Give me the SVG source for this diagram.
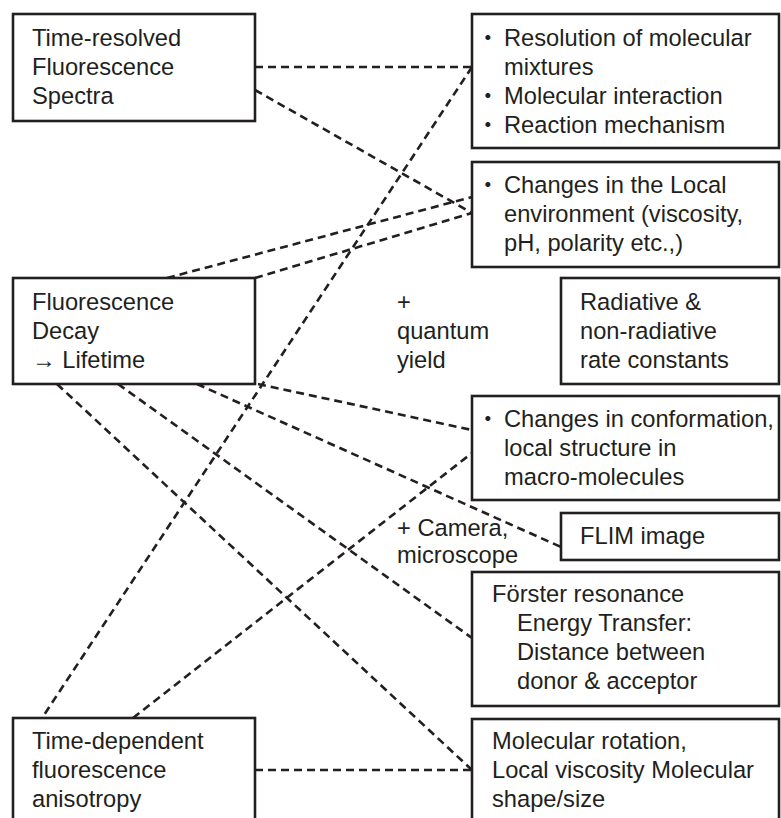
<svg xmlns="http://www.w3.org/2000/svg" width="781" height="818" viewBox="0 0 781 818">
<style>
.box{fill:#fff;stroke:#231f20;stroke-width:2.6}
.t{font-family:"Liberation Sans","Noto Sans CJK JP",Arial,sans-serif;font-size:23.7px;fill:#231f20}
.c{fill:none;stroke:#231f20;stroke-width:2.6;stroke-dasharray:8 5}
</style>
<rect width="781" height="818" fill="#fff"/>
<g id="connectors">
<line class="c" x1="255" y1="67" x2="472" y2="67"/>
<line class="c" x1="255" y1="90" x2="472" y2="213"/>
<line class="c" x1="472" y1="67" x2="42" y2="718"/>
<line class="c" x1="167" y1="278" x2="472" y2="197"/>
<line class="c" x1="255" y1="278" x2="472" y2="213"/>
<line class="c" x1="258" y1="384" x2="472" y2="430"/>
<line class="c" x1="197" y1="384" x2="561" y2="547"/>
<line class="c" x1="118" y1="384" x2="472" y2="638"/>
<line class="c" x1="57" y1="384" x2="472" y2="770"/>
<line class="c" x1="133" y1="718" x2="472" y2="453"/>
<line class="c" x1="255" y1="770" x2="472" y2="770"/>
</g>
<g id="n-time-resolved">
<rect class="box" x="13" y="14" width="242" height="107"/>
<text class="t" x="32" y="46">Time-resolved</text>
<text class="t" x="32" y="75">Fluorescence</text>
<text class="t" x="32" y="104">Spectra</text>
</g>
<g id="n-resolution">
<rect class="box" x="472" y="14" width="307" height="134"/>
<text class="t" x="476" y="46">・<tspan x="504">Resolution of molecular</tspan></text>
<text class="t" x="504" y="75">mixtures</text>
<text class="t" x="476" y="104">・<tspan x="504">Molecular interaction</tspan></text>
<text class="t" x="476" y="133">・<tspan x="504">Reaction mechanism</tspan></text>
</g>
<g id="n-local-env">
<rect class="box" x="472" y="162" width="307" height="105"/>
<text class="t" x="476" y="193">・<tspan x="504">Changes in the Local</tspan></text>
<text class="t" x="504" y="222">environment (viscosity,</text>
<text class="t" x="504" y="251">pH, polarity etc.,)</text>
</g>
<g id="n-decay">
<rect class="box" x="13" y="278" width="242" height="106"/>
<text class="t" x="32" y="310">Fluorescence</text>
<text class="t" x="32" y="339">Decay</text>
<text class="t" x="32" y="368">→ Lifetime</text>
</g>
<g id="n-quantum">
<text class="t" x="397" y="310">+</text>
<text class="t" x="397" y="339">quantum</text>
<text class="t" x="397" y="368">yield</text>
</g>
<g id="n-radiative">
<rect class="box" x="561" y="278" width="218" height="106"/>
<text class="t" x="580" y="310">Radiative &amp;</text>
<text class="t" x="580" y="339">non-radiative</text>
<text class="t" x="580" y="368">rate constants</text>
</g>
<g id="n-conformation">
<rect class="box" x="472" y="396" width="307" height="104"/>
<text class="t" x="476" y="427">・<tspan x="504">Changes in conformation,</tspan></text>
<text class="t" x="504" y="456">local structure in</text>
<text class="t" x="504" y="485">macro-molecules</text>
</g>
<g id="n-camera">
<text class="t" x="397" y="536">+ Camera,</text>
<text class="t" x="397" y="563">microscope</text>
</g>
<g id="n-flim">
<rect class="box" x="561" y="513" width="218" height="47"/>
<text class="t" x="580" y="544">FLIM image</text>
</g>
<g id="n-forster">
<rect class="box" x="472" y="572" width="307" height="134"/>
<text class="t" x="492" y="602">Förster resonance</text>
<text class="t" x="517" y="631">Energy Transfer:</text>
<text class="t" x="517" y="660">Distance between</text>
<text class="t" x="517" y="689">donor &amp; acceptor</text>
</g>
<g id="n-rotation">
<rect class="box" x="472" y="719" width="307" height="120"/>
<text class="t" x="492" y="749">Molecular rotation,</text>
<text class="t" x="492" y="778">Local viscosity Molecular</text>
<text class="t" x="492" y="807">shape/size</text>
</g>
<g id="n-anisotropy">
<rect class="box" x="13" y="718" width="242" height="120"/>
<text class="t" x="32" y="749">Time-dependent</text>
<text class="t" x="32" y="778">fluorescence</text>
<text class="t" x="32" y="807">anisotropy</text>
</g>
</svg>
